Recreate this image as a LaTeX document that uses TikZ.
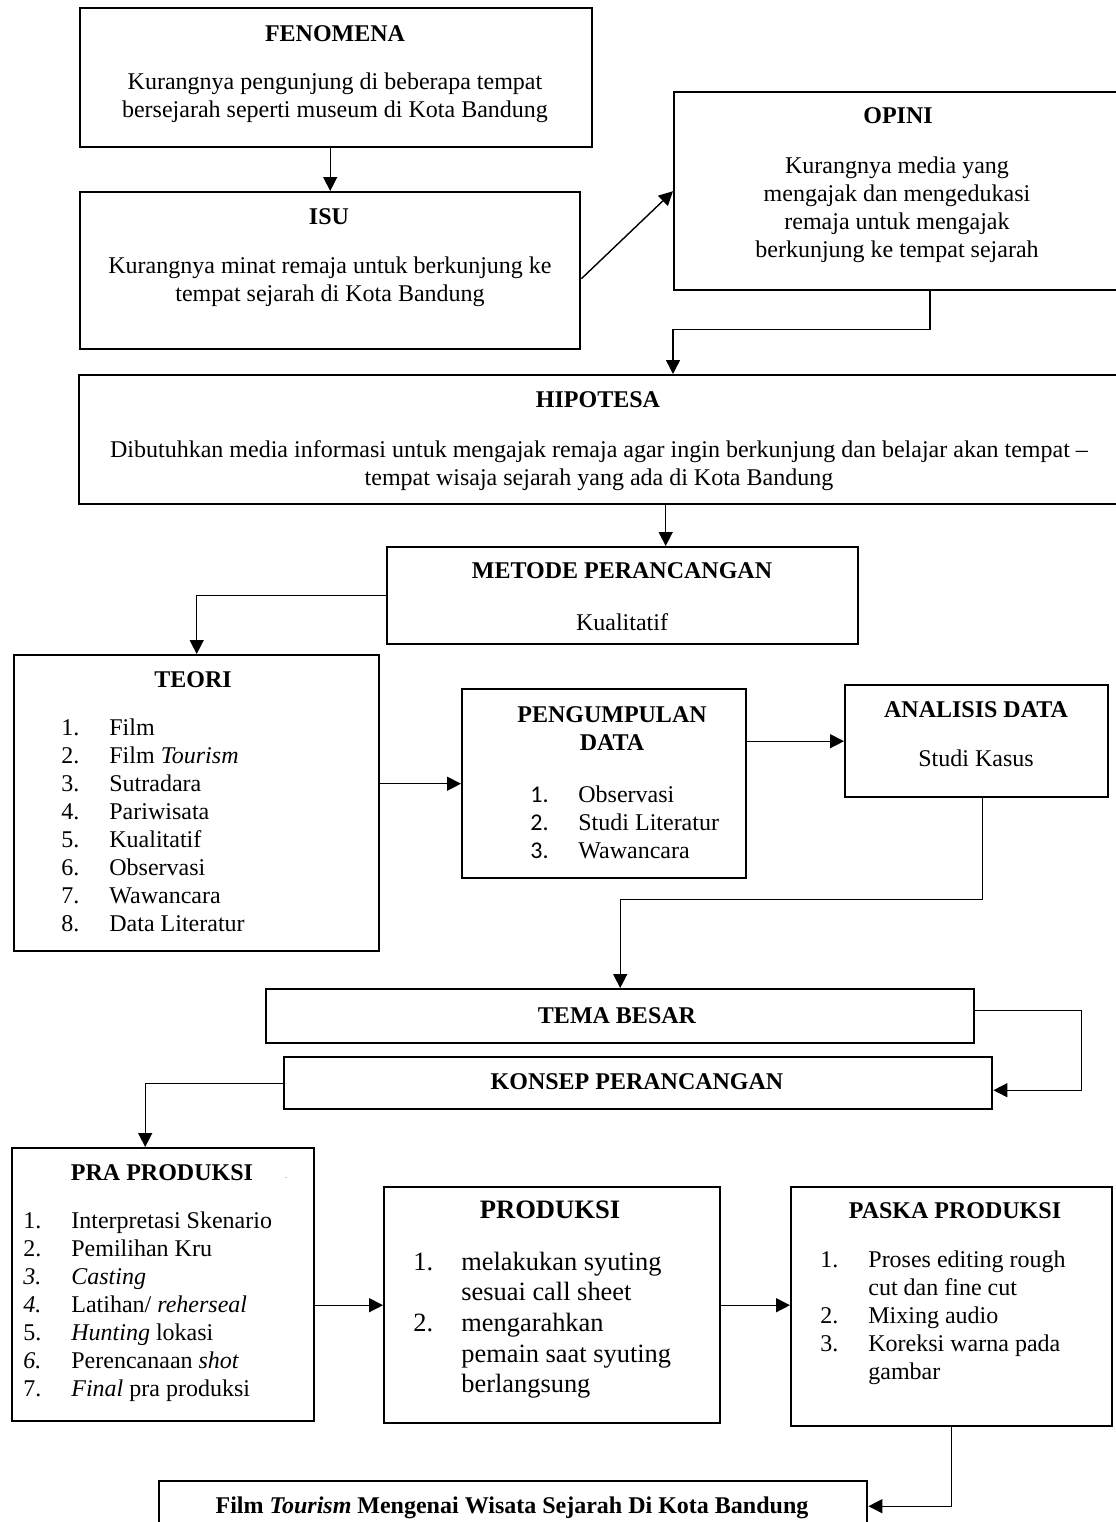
\documentclass[tikz,border=0pt]{standalone}
\usepackage{fontspec}
\setmainfont{Liberation Serif}
\newfontfamily\calibri{Carlito}
\usetikzlibrary{arrows.meta}

% centred lines, first baseline on the node's base
\newcommand{\baris}[1]{\begin{tabular}[t]{@{}c@{}}#1\end{tabular}}
% numbered list: number column + text column
\newcommand{\daftar}[1]{\begin{tabular}[t]{@{}p{24pt}@{}l@{}}#1\end{tabular}}

\begin{document}
\begin{tikzpicture}[x=0.5pt, y=-0.5pt,
    kotak/.style={draw, line width=1.2pt, anchor=north west, inner sep=0pt},
    judul/.style={font=\bfseries, anchor=base, inner sep=0pt},
    isi/.style={anchor=base, inner sep=0pt},
    daftarisi/.style={anchor=base west, inner sep=0pt},
    panah/.style={-{Triangle[length=7pt,width=7pt]}, line width=0.7pt}]
    \fontsize{12}{14}\selectfont
    \useasboundingbox[fill=white] (0,0) rectangle (1115,1522);

    % boxes
    \node[kotak, minimum width=256pt, minimum height=69.5pt] (fenomena) at (79,7) {};
    \node[kotak, minimum width=250pt, minimum height=78.5pt] (isu) at (79,191) {};
    \node[kotak, minimum width=228.5pt, minimum height=99pt] (opini) at (673,91) {};
    \node[kotak, minimum width=526pt, minimum height=64.5pt] (hipotesa) at (78,374) {};
    \node[kotak, minimum width=235.5pt, minimum height=48.5pt] (metode) at (386,546) {};
    \node[kotak, minimum width=182.5pt, minimum height=148pt] (teori) at (13,654) {};
    \node[kotak, minimum width=142pt, minimum height=94.5pt] (kumpul) at (461,688) {};
    \node[kotak, minimum width=131.5pt, minimum height=56pt] (analisis) at (844,684) {};
    \node[kotak, minimum width=354pt, minimum height=27pt] (tema) at (265,988) {};
    \node[kotak, minimum width=354pt, minimum height=26pt] (konsep) at (283,1056) {};
    \node[kotak, minimum width=151pt, minimum height=136.5pt] (pra) at (11,1147) {};
    \node[kotak, minimum width=168pt, minimum height=118pt] (produksi) at (383,1186) {};
    \node[kotak, minimum width=160.5pt, minimum height=119.5pt] (paska) at (790,1186) {};
    \node[kotak, minimum width=354pt, minimum height=30pt] (film) at (158,1480) {};

    % texts
    \node[judul] (judulFenomena) at (335,41) {FENOMENA};
    \node[isi] (isiFenomena) at (335,89) {\baris{Kurangnya pengunjung di beberapa tempat\\
        bersejarah seperti museum di Kota Bandung}};
    \node[judul] (judulIsu) at (329,224) {ISU};
    \node[isi] (isiIsu) at (330,273) {\baris{Kurangnya minat remaja untuk berkunjung ke\\
        tempat sejarah di Kota Bandung}};
    \node[judul] (judulOpini) at (898,123) {OPINI};
    \node[isi] (isiOpini) at (897,173) {\baris{Kurangnya media yang\\ mengajak dan mengedukasi\\
        remaja untuk mengajak\\ berkunjung ke tempat sejarah}};
    \node[judul] (judulHipotesa) at (598,407) {HIPOTESA};
    \node[isi] (isiHipotesa) at (599,457) {\baris{Dibutuhkan media informasi untuk mengajak remaja agar ingin berkunjung dan belajar akan tempat --\\
        tempat wisaja sejarah yang ada di Kota Bandung}};
    \node[judul] (judulMetode) at (622,578) {METODE PERANCANGAN};
    \node[isi] (isiMetode) at (622,630) {Kualitatif};
    \node[judul] (judulTeori) at (193,687) {TEORI};
    \node[daftarisi] (isiTeori) at (61,735) {\daftar{1. & Film\\ 2. & Film \textit{Tourism}\\
        3. & Sutradara\\ 4. & Pariwisata\\ 5. & Kualitatif\\ 6. & Observasi\\
        7. & Wawancara\\ 8. & Data Literatur}};
    \node[judul] (judulKumpul) at (612,722) {\baris{PENGUMPULAN\\ DATA}};
    \node[daftarisi] (isiKumpul) at (530,802) {\daftar{{\calibri 1.} & Observasi\\
        {\calibri 2.} & Studi Literatur\\ {\calibri 3.} & Wawancara}};
    \node[judul] (judulAnalisis) at (976,717) {ANALISIS DATA};
    \node[isi] (isiAnalisis) at (976,766) {Studi Kasus};
    \node[judul] (judulTema) at (617,1023) {TEMA BESAR};
    \node[judul] (judulKonsep) at (637,1089) {KONSEP PERANCANGAN};
    \node[judul] (judulPra) at (162,1180) {PRA PRODUKSI};
    \node[isi, font=\tiny, text=gray] (titik) at (286,1178) {.};
    \node[daftarisi] (isiPra) at (23,1228) {\daftar{1. & Interpretasi Skenario\\
        2. & Pemilihan Kru\\ \textit{3.} & \textit{Casting}\\
        \textit{4.} & Latihan/ \textit{reherseal}\\ 5. & \textit{Hunting} lokasi\\
        \textit{6.} & Perencanaan \textit{shot}\\ 7. & \textit{Final} pra produksi}};
    \node[judul, font=\bfseries\fontsize{13.3}{15.4}\selectfont] (judulProduksi) at (550,1218) {PRODUKSI};
    \node[daftarisi, font=\fontsize{13.2}{15.35}\selectfont] (isiProduksi) at (413,1270) {\daftar{1. & melakukan syuting\\
        & sesuai call sheet\\ 2. & mengarahkan\\ & pemain saat syuting\\ & berlangsung}};
    \node[judul] (judulPaska) at (955,1218) {PASKA PRODUKSI};
    \node[daftarisi] (isiPaska) at (820,1267) {\daftar{1. & Proses editing rough\\
        & cut dan fine cut\\ 2. & Mixing audio\\ 3. & Koreksi warna pada\\ & gambar}};
    \node[judul] (judulFilm) at (512,1513) {Film \textit{Tourism} Mengenai Wisata Sejarah Di Kota Bandung};

    % edges
    \draw[panah] (isu.north |- fenomena.south) -- (isu.north); % fenomena -> isu
    \draw[panah] ([yshift=-4pt]isu.east) -- (opini.west); % isu -> opini
    \draw[panah] ([xshift=128.5pt]opini.south west) -- ++(0,38) -| (opini.west |- hipotesa.north); % opini -> hipotesa
    \draw[panah] ([xshift=21.5pt]metode.north |- hipotesa.south) -- ([xshift=21.5pt]metode.north); % hipotesa -> metode
    \draw[panah] (metode.west) -| (teori.north); % metode -> teori
    \draw[panah] (teori.east |- kumpul.west) -- (kumpul.west); % teori -> pengumpulan
    \draw[panah] (kumpul.east |- analisis.west) -- (analisis.west); % pengumpulan -> analisis
    \draw[panah] ([xshift=2.75pt]analisis.south) -- ++(0,101) -| (tema.north); % analisis -> tema
    \draw[panah] ([yshift=3pt]tema.east) -- ++(106,0) |- ([yshift=-3.5pt]konsep.east); % tema -> konsep
    \draw[panah] (konsep.west) -| ([xshift=-9pt]pra.north); % konsep -> pra
    \draw[panah] (pra.east |- produksi.west) -- (produksi.west); % pra -> produksi
    \draw[panah] (produksi.east) -- (paska.west |- produksi.east); % produksi -> paska
    \draw[panah] (paska.south) |- ([yshift=2.5pt]film.east); % paska -> film

\end{tikzpicture}
\end{document}
